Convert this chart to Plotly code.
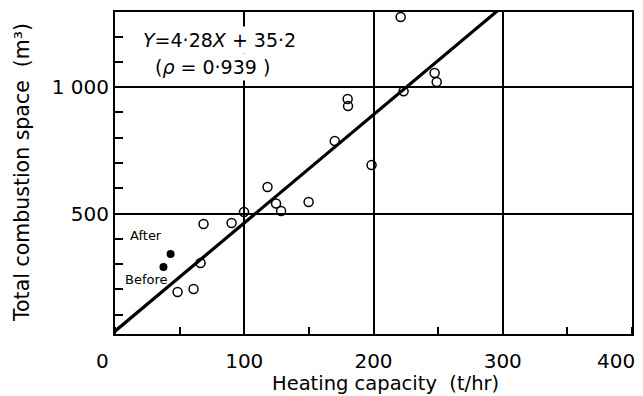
import plotly.graph_objects as go

# Data
open_x = [118.0, 124.6, 128.5, 99.8, 68.5, 90.2, 66.2, 48.4, 60.8, 149.8,
          221.0, 247.3, 248.9, 223.3, 180.0, 180.3, 170.0, 198.5]
open_y = [605, 540, 510, 506, 459, 463, 305, 190, 202, 546,
          1277, 1056, 1020, 984, 953, 925, 787, 692]
after_x = [43.0]
after_y = [340]
before_x = [37.5]
before_y = [289]
fit_slope = 4.28
fit_intercept = 35.2
fit_x = [0, 400]
fit_y = [fit_slope * v + fit_intercept for v in fit_x]

x_ticks = [0, 100, 200, 300, 400]
x_ticktext = ["0\u00a0\u00a0\u00a0\u00a0", "100", "200", "300",
              "400\u00a0\u00a0\u00a0\u00a0\u00a0"]
y_ticks = [500, 1000]
y_ticktext = ["500", "1 000"]

FONT = "DejaVu Sans"

fig = go.Figure()
fig.add_trace(go.Scatter(x=fit_x, y=fit_y, mode="lines",
                         line=dict(color="black", width=3.2), hoverinfo="skip"))
fig.add_trace(go.Scatter(x=open_x, y=open_y, mode="markers",
                         marker=dict(symbol="circle-open", size=9, color="black",
                                     line=dict(width=1.5, color="black"))))
fig.add_trace(go.Scatter(x=after_x + before_x, y=after_y + before_y, mode="markers",
                         marker=dict(symbol="circle", size=8, color="black")))

# page body has an 8px margin, so the figure is drawn 8px in from the corner
fig.update_layout(
    width=635, height=388,
    margin=dict(l=107, r=11, t=4, b=62),
    paper_bgcolor="white", plot_bgcolor="white",
    showlegend=False,
    font=dict(family=FONT, color="black"),
)
fig.update_xaxes(
    range=[0, 400], tickvals=x_ticks, ticktext=x_ticktext,
    showgrid=True, gridcolor="black", gridwidth=1.5,
    showline=True, linecolor="black", linewidth=2, mirror=True,
    ticks="", tickfont=dict(size=20), ticklabelstandoff=8,
    ticklabeloverflow="allow", automargin=False,
    zeroline=False,
    minor=dict(dtick=50, tick0=0, ticks="inside", ticklen=7, tickwidth=1.5,
               tickcolor="black", showgrid=False),
)
fig.update_yaxes(
    range=[24, 1297], tickvals=y_ticks, ticktext=y_ticktext,
    showgrid=True, gridcolor="black", gridwidth=1.5,
    showline=True, linecolor="black", linewidth=2, mirror=True,
    ticks="", tickfont=dict(size=20), ticklabelstandoff=0,
    automargin=False,
    zeroline=False,
    minor=dict(dtick=100, tick0=0, ticks="inside", ticklen=8, tickwidth=1.5,
               tickcolor="black", showgrid=False),
)

ann = [
    dict(text="<i>Y</i>=4·28<i>X</i> + 35·2", x=0.048, y=0.913, xanchor="left",
         yanchor="middle", font=dict(size=19), bgcolor="white", borderpad=2),
    dict(text="(<i>ρ</i> = 0·939 )", x=0.071, y=0.829, xanchor="left",
         yanchor="middle", font=dict(size=19), bgcolor="white", borderpad=2),
    dict(text="After", x=0.025, y=0.307, xanchor="left", yanchor="middle",
         font=dict(size=13)),
    dict(text="Before", x=0.0155, y=0.168, xanchor="left", yanchor="middle",
         font=dict(size=13)),
    dict(text="Heating capacity  (t/hr)", x=0.524, y=-0.155, xanchor="center",
         yanchor="middle", font=dict(size=19.5)),
    dict(text="Total combustion space  (m³)", x=-0.18, y=0.503, xanchor="center",
         yanchor="middle", textangle=-90, font=dict(size=20.5)),
]
for a in ann:
    a.update(xref="paper", yref="paper", showarrow=False)
    fig.add_annotation(**a)

fig.write_html("out.html")
